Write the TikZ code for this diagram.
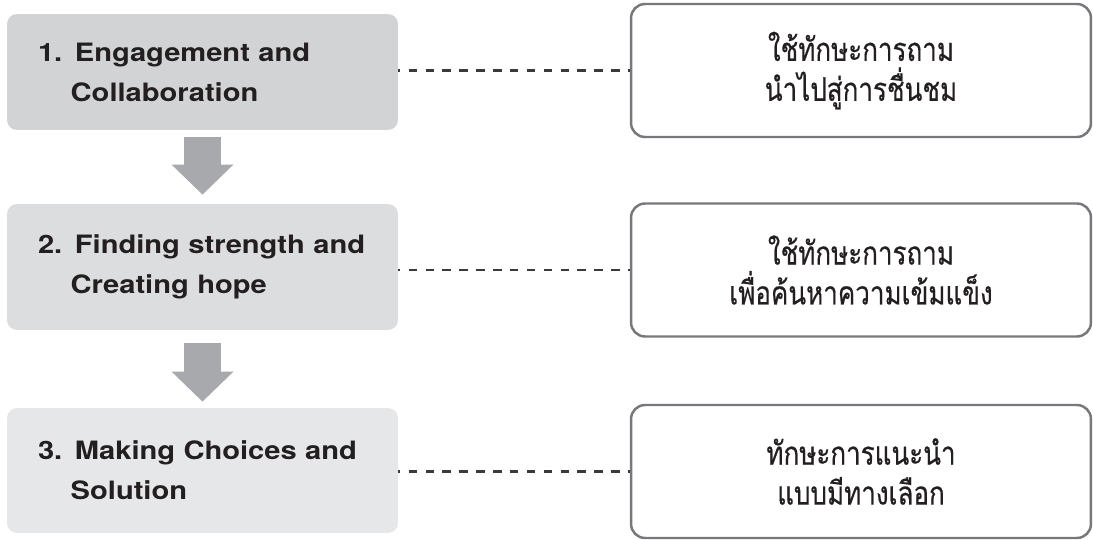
\documentclass[tikz,border=0pt]{standalone}
\usepackage{fontspec}
\setmainfont{TeX Gyre Heros}[FakeStretch=1.15]
\newfontfamily\thaifont[Script=Thai,FakeStretch=0.8,FakeBold=0.4]{Loma}
\usetikzlibrary{arrows.meta,positioning}
\definecolor{stageone}{HTML}{D1D3D4}
\definecolor{stagetwo}{HTML}{DCDDDE}
\definecolor{stagethree}{HTML}{E6E7E8}
\definecolor{flowgray}{HTML}{A7A9AC}
\definecolor{framegray}{HTML}{77787B}
\definecolor{inkgray}{HTML}{231F20}
\definecolor{dashgray}{HTML}{3A3A3C}
\tikzset{stage/.style={
    rounded corners=0.2cm,
    minimum width=7.82cm,
    minimum height=2.5cm,
    text width=6.58cm,
    inner xsep=0.62cm,
    align=left,
    text=inkgray,
    font={\fontsize{14.4}{22.7}\selectfont\bfseries}
  },
  skill/.style={
    draw=framegray,
    line width=1.4pt,
    rounded corners=0.28cm,
    minimum width=9.2cm,
    minimum height=2.66cm,
    align=center,
    text=inkgray,
    font={\thaifont\fontsize{18.5}{22.7}\selectfont}
  },
  flow/.style={
    flowgray,
    line width=0.76cm,
    -{Triangle[width=1.2cm,length=0.6cm]},
    shorten <=0.14cm,
    shorten >=0.18cm
  },
  link/.style={
    dashgray,
    line width=1.4pt,
    dash pattern=on 4.8pt off 4.8pt,
    dash phase=3.67pt
  }
}

\begin{document}
\begin{tikzpicture}[x=0.02cm,y=-0.02cm]
    \useasboundingbox (0,0) rectangle (1093,540);
    \node[stage,fill=stageone,minimum height=2.32cm] (s1) at (202.5,72)
        {1. Engagement and\\\hphantom{1.}\ Collaboration};
    \node[stage,fill=stagetwo,minimum height=2.52cm] (s2) at (202.5,267)
        {2. Finding strength and\\\hphantom{2.}\ Creating hope};
    \node[stage,fill=stagethree] (s3) at (202.5,470.5)
        {3. Making Choices and\\\hphantom{3.}\ Solution};
    \node[skill] (r1) at (861,70.5) {ใช้ทักษะการถาม\\นำไปสู่การชื่นชม};
    \node[skill] (r2) at (861,270) {ใช้ทักษะการถาม\\เพื่อค้นหาความเข้มแข็ง};
    \node[skill] (r3) at (861,471.5) {ทักษะการแนะนำ\\แบบมีทางเลือก};
    \draw[flow] (s1) -- (s2);
    \draw[flow,shorten <=0.26cm,shorten >=0.12cm] (s2) -- (s3);
    \draw[link] (s1.east |- r1.west) -- (r1.west);
    \draw[link] (s2.east |- r2.west) -- (r2.west);
    \draw[link] (s3.east |- r3.west) -- (r3.west);
\end{tikzpicture}
\end{document}
